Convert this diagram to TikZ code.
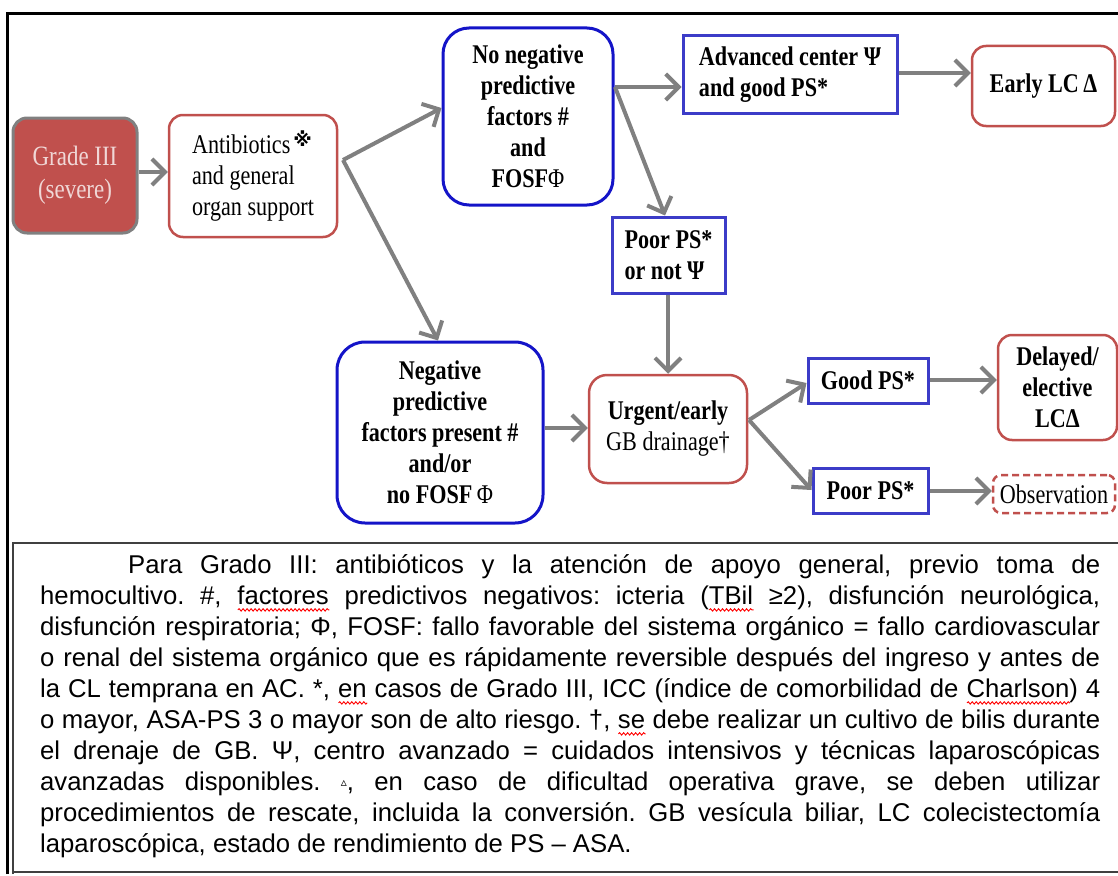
\documentclass[tikz,border=0pt]{standalone}
\usepackage{fontspec}
\setmainfont{Liberation Serif}
\newfontfamily\boxfont{Liberation Serif}[FakeStretch=0.82]
\newfontfamily\capfont{Liberation Sans}
\newfontfamily\symfont{DejaVu Sans}
\usetikzlibrary{arrows.meta,decorations.pathmorphing}
\definecolor{bred}{RGB}{192,80,77}
\definecolor{bblue}{RGB}{20,20,200}
\definecolor{rblue}{RGB}{60,60,200}
\definecolor{agray}{RGB}{128,128,128}
\definecolor{pinktxt}{RGB}{240,215,214}
\newsavebox\sqwbox
\newcommand\sqw[1]{\sbox\sqwbox{#1}\rlap{\tikz[baseline=0pt,x=1pt,y=1pt]\draw[red,line width=0.9pt,decorate,decoration={snake,amplitude=1.2pt,segment length=4pt}] (0,-5) -- (\the\wd\sqwbox,-5);}\usebox\sqwbox}
\tikzset{
  bx/.style={inner sep=0pt, align=center, font=\boxfont\fontsize{27}{31}\selectfont},
  bbx/.style={bx, font=\boxfont\bfseries\fontsize{27}{31}\selectfont},
  redbox/.style={draw=bred, line width=2.5pt, rounded corners=14pt},
  bluebox/.style={draw=bblue, line width=3pt, rounded corners=26pt},
  rectbox/.style={draw=rblue, line width=3pt},
  arr/.style={draw=agray, line width=4pt, -{Straight Barb[length=13pt,width=26pt,line width=4pt]}}
}
\begin{document}
\begin{tikzpicture}[x=1pt,y=-1pt]
\useasboundingbox (0,0) rectangle (1118,875);
% frames
\draw[line width=3pt] (7,874) -- (7,14) -- (1125,14);
\draw[line width=2pt, draw=black!75] (13,874) -- (13,543) -- (1125,543);
\draw[line width=2pt, draw=black!75] (13,872) -- (1125,872);
% nodes
\node[bx, draw=agray, fill=bred, line width=3pt, rounded corners=14pt,
  minimum width=124pt, minimum height=115pt, text=pinktxt,
  font=\boxfont\fontsize{28}{33}\selectfont] (grade) at (75,175.5) {Grade III\\(severe)};
\node[bx, redbox, minimum width=168pt, minimum height=122pt, align=left] (anti) at (253,176)
  {Antibiotics\rlap{\raisebox{7pt}{\hspace{3pt}\symfont\bfseries\fontsize{19}{19}\selectfont ※}}\\and general\\organ support};
\node[bbx, bluebox, minimum width=170pt, minimum height=177pt] (noneg) at (528,116.5)
  {No negative\\predictive\\factors \#\\and\\FOSF\textmd{Φ}};
\node[bbx, rectbox, minimum width=214pt, minimum height=77pt, align=left] (adv) at (790,74.5)
  {Advanced center Ψ\\and good PS*};
\node[bbx, redbox, minimum width=143pt, minimum height=80pt] (early) at (1043.5,86) {Early LC\,Δ};
\node[bbx, rectbox, minimum width=113pt, minimum height=76pt, align=left] (poorpsi) at (668.5,255)
  {Poor PS*\\or not Ψ};
\node[bbx, bluebox, rounded corners=28pt, minimum width=206pt, minimum height=181pt] (neg) at (440,432.5)
  {Negative\\predictive\\factors present \#\\and/or\\no FOSF\,\textmd{Φ}};
\node[bx, redbox, rounded corners=18pt, minimum width=158pt, minimum height=108pt] (urg) at (668,429)
  {\textbf{Urgent/early}\\GB drainage†};
\node[bbx, rectbox, minimum width=120pt, minimum height=45pt] (good) at (868,380.5) {Good PS*};
\node[bbx, redbox, minimum width=119pt, minimum height=105pt] (del) at (1057.5,387.5)
  {Delayed/\\elective\\LCΔ};
\node[bbx, rectbox, minimum width=115pt, minimum height=45pt] (poor) at (870.5,490.5) {Poor PS*};
\node[bx, redbox, dashed, dash pattern=on 7pt off 4pt, rounded corners=8pt, minimum width=122pt, minimum height=38pt] (obs) at (1054,494) {Observation};
% branch points
\coordinate (antiR) at (343,160);
\coordinate (nonegR) at (615,87);
\coordinate (urgR) at (749,420);
% connectors
\draw[arr] (grade.east |- 0,172) -- (anti.west |- 0,172);
\draw[arr] (antiR) -- (noneg.west |- 0,108);
\draw[arr] (antiR) -- (neg.north -| 438,0);
\draw[arr] (nonegR) -- (adv.west |- nonegR);
\draw[arr] (nonegR) -- (poorpsi.north -| 665,0);
\draw[arr] (adv.east |- 0,73) -- (early.west |- 0,73);
\draw[arr] (poorpsi.south -| 668,0) -- (urg.north -| 668,0);
\draw[arr] (neg.east |- 0,428) -- (urg.west |- 0,428);
\draw[arr] (urgR) -- (good.west |- 0,383);
\draw[arr] (urgR) -- (poor.west |- 0,490);
\draw[arr] (good.east |- 0,380) -- (del.west |- 0,380);
\draw[arr] (poor.east |- 0,491) -- (obs.west |- 0,491);
% caption
\node[anchor=north west, inner sep=0pt, text width=1060pt, align=justify,
  font=\capfont\fontsize{25.7}{31}\selectfont\frenchspacing] (cap) at (40,552) {%
\strut\hspace*{88pt}Para Grado III: antibióticos y la atención de apoyo general, previo toma de\linebreak
hemocultivo. \#, \sqw{factores} predictivos negativos: icteria (\sqw{TBil} ≥2), disfunción neurológica,\linebreak
disfunción respiratoria; Φ, FOSF: fallo favorable del sistema orgánico = fallo cardiovascular\linebreak
o renal del sistema orgánico que es rápidamente reversible después del ingreso y antes de\linebreak
la CL temprana en AC. *, \sqw{en} casos de Grado III, ICC (índice de comorbilidad de \sqw{Charlson}) 4\linebreak
o mayor, ASA-PS 3 o mayor son de alto riesgo. †, \sqw{se} debe realizar un cultivo de bilis durante\linebreak
el drenaje de GB. Ψ, centro avanzado = cuidados intensivos y técnicas laparoscópicas\linebreak
avanzadas disponibles. {\symfont\fontsize{12}{12}\selectfont\raisebox{4pt}{▵}}, en caso de dificultad operativa grave, se deben utilizar\linebreak
procedimientos de rescate, incluida la conversión. GB vesícula biliar, LC colecistectomía\linebreak
laparoscópica, estado de rendimiento de PS – ASA.};
\end{tikzpicture}
\end{document}
